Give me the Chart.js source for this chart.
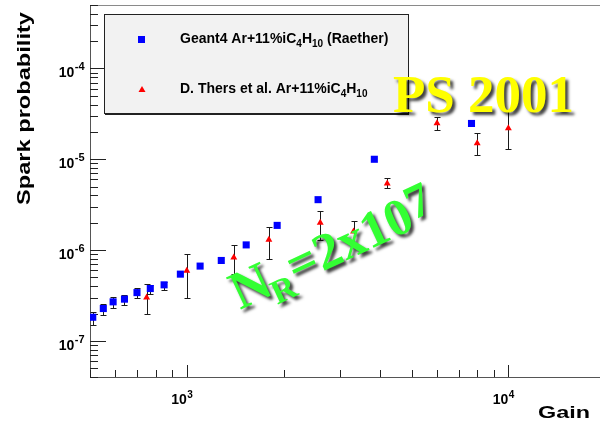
<!DOCTYPE html>
<html>
<head>
<meta charset="utf-8">
<script src="https://cdn.jsdelivr.net/npm/chart.js@4/dist/chart.umd.min.js"></script>
<style>
  html, body { margin: 0; padding: 0; background: #fff; overflow: hidden; }
  canvas { display: block; }
</style>
</head>
<body>
<canvas id="sparkChart" width="603" height="425"></canvas>
<script>
// Geant4 simulation, Ar+11%iC4H10 (Raether limit)
const g4Gain = [510, 550, 590, 640, 700, 770, 850, 955, 1100, 1280, 1530, 1910, 2560, 3830, 7680];
const g4Prob = [1.82e-7, 2.27e-7, 2.69e-7, 2.88e-7, 3.40e-7, 3.77e-7, 4.14e-7, 5.43e-7, 6.66e-7, 7.68e-7, 1.14e-6, 1.87e-6, 3.59e-6, 1.0e-5, 2.48e-5];
const g4Low  = [1.50e-7, 1.93e-7, 2.31e-7, 2.51e-7, 2.98e-7, 3.30e-7, 3.65e-7, null, null, null, null, null, null, null, null];
const g4High = [2.10e-7, 2.57e-7, 3.05e-7, 3.24e-7, 3.81e-7, 4.11e-7, 4.50e-7, null, null, null, null, null, null, null, null];

// D. Thers et al. measurements
const thersGain = [750, 1000, 1400, 1800, 2600, 3300, 4200, 6000, 8000, 10000];
const thersProb = [3.0e-7, 5.9e-7, 8.3e-7, 1.3e-6, 2.0e-6, 1.6e-6, 5.4e-6, 2.5e-5, 1.5e-5, 2.2e-5];
const thersLow  = [2.0e-7, 3.0e-7, 5.4e-7, 8.0e-7, 1.3e-6, 1.11e-6, 4.8e-6, 2.11e-5, 1.11e-5, 1.3e-5];
const thersHigh = [4.2e-7, 9.0e-7, 1.14e-6, 1.78e-6, 2.7e-6, 2.07e-6, 6.2e-6, 2.95e-5, 1.93e-5, 3.4e-5];

// decade labels on both axes (powers of ten)
const xTickExps = [3, 4];
const yTickExps = [-7, -6, -5, -4];

const g4Legend = [['Geant4 Ar+11%iC', 0], ['4', 1], ['H', 0], ['10', 1], [' (Raether)', 0]];
const thersLegend = [['D. Thers et al. Ar+11%iC', 0], ['4', 1], ['H', 0], ['10', 1]];

const toPoints = (xs, ys) => xs.map((x, i) => ({ x: x, y: ys[i] }));

const SANS = '"Liberation Sans", Arial, Helvetica, sans-serif';
const SERIF = '"Liberation Serif", "Times New Roman", serif';

function minorValues(min, max) {
  const out = [];
  for (let e = Math.floor(Math.log10(min)); e <= Math.ceil(Math.log10(max)); e++) {
    for (let m = 1; m <= 9; m++) {
      const v = m * Math.pow(10, e);
      if (v >= min && v <= max) out.push({ v: v, major: m === 1 });
    }
  }
  return out;
}

function drawErrorBars(ctx, xs, scX, scY, lo, hi) {
  ctx.strokeStyle = '#1a1a1a';
  ctx.lineWidth = 1;
  xs.forEach((g, i) => {
    if (lo[i] == null) return;
    const px = Math.round(scX.getPixelForValue(g)) + 0.5;
    const y1 = Math.round(scY.getPixelForValue(hi[i])) + 0.5;
    const y2 = Math.round(scY.getPixelForValue(lo[i])) + 0.5;
    ctx.beginPath();
    ctx.moveTo(px, y1); ctx.lineTo(px, y2);
    ctx.moveTo(px - 3, y1); ctx.lineTo(px + 3, y1);
    ctx.moveTo(px - 3, y2); ctx.lineTo(px + 3, y2);
    ctx.stroke();
  });
}

// text with sub/superscript pieces: [text, 1 = subscript]
function drawRich(ctx, parts, x, y, size) {
  let cx = x;
  parts.forEach(p => {
    const sub = p[1] === 1;
    ctx.font = 'bold ' + (sub ? Math.round(size * 0.68) : size) + 'px ' + SANS;
    ctx.fillText(p[0], cx, sub ? y + 4 : y);
    cx += ctx.measureText(p[0]).width;
  });
}

function drawPower(ctx, exp, xRight, yBase, size, supSize, supRise, anchorRight) {
  const base = '10';
  const sup = String(exp);
  ctx.font = 'bold ' + size + 'px ' + SANS;
  const wb = ctx.measureText(base).width;
  ctx.font = 'bold ' + supSize + 'px ' + SANS;
  const ws = ctx.measureText(sup).width;
  const left = anchorRight ? xRight - wb - ws : xRight - wb;
  ctx.textAlign = 'left';
  ctx.font = 'bold ' + size + 'px ' + SANS;
  ctx.fillText(base, left, yBase);
  ctx.font = 'bold ' + supSize + 'px ' + SANS;
  ctx.fillText(sup, left + wb + 0.5, yBase - supRise);
}

const framePlugin = {
  id: 'rootFrame',
  beforeDatasetsDraw(chart) {
    const ctx = chart.ctx;
    const a = chart.chartArea;
    const sx = chart.scales.x, sy = chart.scales.y;
    ctx.save();

    // frame: top edge light, axes darker
    ctx.lineWidth = 1;
    ctx.strokeStyle = '#8a8a8a';
    ctx.beginPath();
    ctx.moveTo(a.left, Math.round(a.top) + 0.5);
    ctx.lineTo(a.right + 2, Math.round(a.top) + 0.5);
    ctx.stroke();
    ctx.strokeStyle = '#555';
    ctx.beginPath();
    ctx.moveTo(Math.round(a.left) + 0.5, a.top);
    ctx.lineTo(Math.round(a.left) + 0.5, Math.round(a.bottom) + 0.5);
    ctx.lineTo(a.right + 2, Math.round(a.bottom) + 0.5);
    ctx.stroke();

    // ticks drawn inside the frame
    ctx.strokeStyle = '#222';
    minorValues(sy.min, sy.max).forEach(t => {
      const py = Math.round(sy.getPixelForValue(t.v)) + 0.5;
      ctx.beginPath();
      ctx.moveTo(a.left, py);
      ctx.lineTo(a.left + (t.major ? 16 : 8), py);
      ctx.stroke();
    });
    minorValues(sx.min, sx.max).forEach(t => {
      const px = Math.round(sx.getPixelForValue(t.v)) + 0.5;
      ctx.beginPath();
      ctx.moveTo(px, a.bottom);
      ctx.lineTo(px, a.bottom - (t.major ? 12 : 7));
      ctx.stroke();
    });

    drawErrorBars(ctx, g4Gain, sx, sy, g4Low, g4High);
    drawErrorBars(ctx, thersGain, sx, sy, thersLow, thersHigh);
    ctx.restore();
  },
  afterDatasetsDraw(chart) {
    const ctx = chart.ctx;
    const a = chart.chartArea;
    const sx = chart.scales.x, sy = chart.scales.y;
    ctx.save();
    ctx.fillStyle = '#000';
    ctx.textBaseline = 'alphabetic';

    // decade labels
    yTickExps.forEach(e => {
      const py = sy.getPixelForValue(Math.pow(10, e));
      drawPower(ctx, e, 84, py + 9, 14, 11, 7, true);
    });
    xTickExps.forEach(e => {
      const px = sx.getPixelForValue(Math.pow(10, e));
      drawPower(ctx, e, px, a.bottom + 27, 14, 10, 6, false);
    });

    // axis titles
    ctx.font = 'bold 19px ' + SANS;
    let w = ctx.measureText('Spark probability').width;
    ctx.save();
    ctx.translate(30, 205);
    ctx.rotate(-Math.PI / 2);
    ctx.scale(193 / w, 1);
    ctx.fillText('Spark probability', 0, 0);
    ctx.restore();

    ctx.font = 'bold 17px ' + SANS;
    w = ctx.measureText('Gain').width;
    ctx.save();
    ctx.translate(590, 418);
    ctx.scale(52 / w, 1);
    ctx.fillText('Gain', -w, 0);
    ctx.restore();

    // legend box
    ctx.fillStyle = '#f2f2f2';
    ctx.fillRect(104, 14, 304, 99);
    ctx.strokeStyle = '#222';
    ctx.lineWidth = 1;
    ctx.strokeRect(104.5, 14.5, 304, 99);
    ctx.beginPath();
    ctx.moveTo(105, 114.5); ctx.lineTo(409, 114.5);
    ctx.stroke();

    ctx.fillStyle = '#0000ff';
    ctx.fillRect(138, 36, 7, 7);
    ctx.fillStyle = '#ff0000';
    ctx.beginPath();
    ctx.moveTo(142, 86); ctx.lineTo(145.5, 92); ctx.lineTo(138.5, 92);
    ctx.closePath(); ctx.fill();

    ctx.fillStyle = '#000';
    drawRich(ctx, g4Legend, 180, 43, 14);
    drawRich(ctx, thersLegend, 180, 93, 14);

    // overlay captions
    ctx.shadowColor = 'rgba(0,0,0,0.75)';
    ctx.shadowOffsetX = 3;
    ctx.shadowOffsetY = 3;
    ctx.shadowBlur = 3;
    ctx.fillStyle = '#ffff00';
    ctx.font = 'bold 53px ' + SERIF;
    ctx.fillText('PS 2001', 393, 112);

    ctx.fillStyle = '#33ff33';
    ctx.translate(240, 310);
    ctx.rotate(-25 * Math.PI / 180);
    ctx.font = 'bold 54px ' + SERIF;
    ctx.fillText('N', 0, 0);
    let cx = ctx.measureText('N').width;
    ctx.font = 'bold 34px ' + SERIF;
    ctx.fillText('R', cx - 3, 11);
    cx += ctx.measureText('R').width - 2;
    ctx.font = 'bold 52px ' + SERIF;
    ctx.fillText('=2x10', cx, 0);
    cx += ctx.measureText('=2x10').width;
    ctx.font = 'bold 48px ' + SERIF;
    ctx.fillText('7', cx, -8);

    ctx.restore();
  }
};

new Chart(document.getElementById('sparkChart'), {
  type: 'scatter',
  data: {
    datasets: [
      {
        label: 'Geant4 Ar+11%iC4H10 (Raether)',
        data: toPoints(g4Gain, g4Prob),
        pointStyle: 'rect',
        pointRadius: 5,
        backgroundColor: '#0000ff',
        borderWidth: 0,
      },
      {
        label: 'D. Thers et al. Ar+11%iC4H10',
        data: toPoints(thersGain, thersProb),
        pointStyle: 'triangle',
        pointRadius: 4,
        backgroundColor: '#ff0000',
        borderWidth: 0,
      },
    ],
  },
  options: {
    responsive: false,
    animation: false,
    events: [],
    layout: { padding: { left: 90, top: 5, right: 1, bottom: 48 } },
    plugins: { legend: { display: false }, tooltip: { enabled: false } },
    scales: {
      x: { type: 'logarithmic', min: 500, max: 19000, display: false },
      y: { type: 'logarithmic', min: 4e-8, max: 5e-4, display: false },
    },
  },
  plugins: [framePlugin],
});
</script>
</body>
</html>
